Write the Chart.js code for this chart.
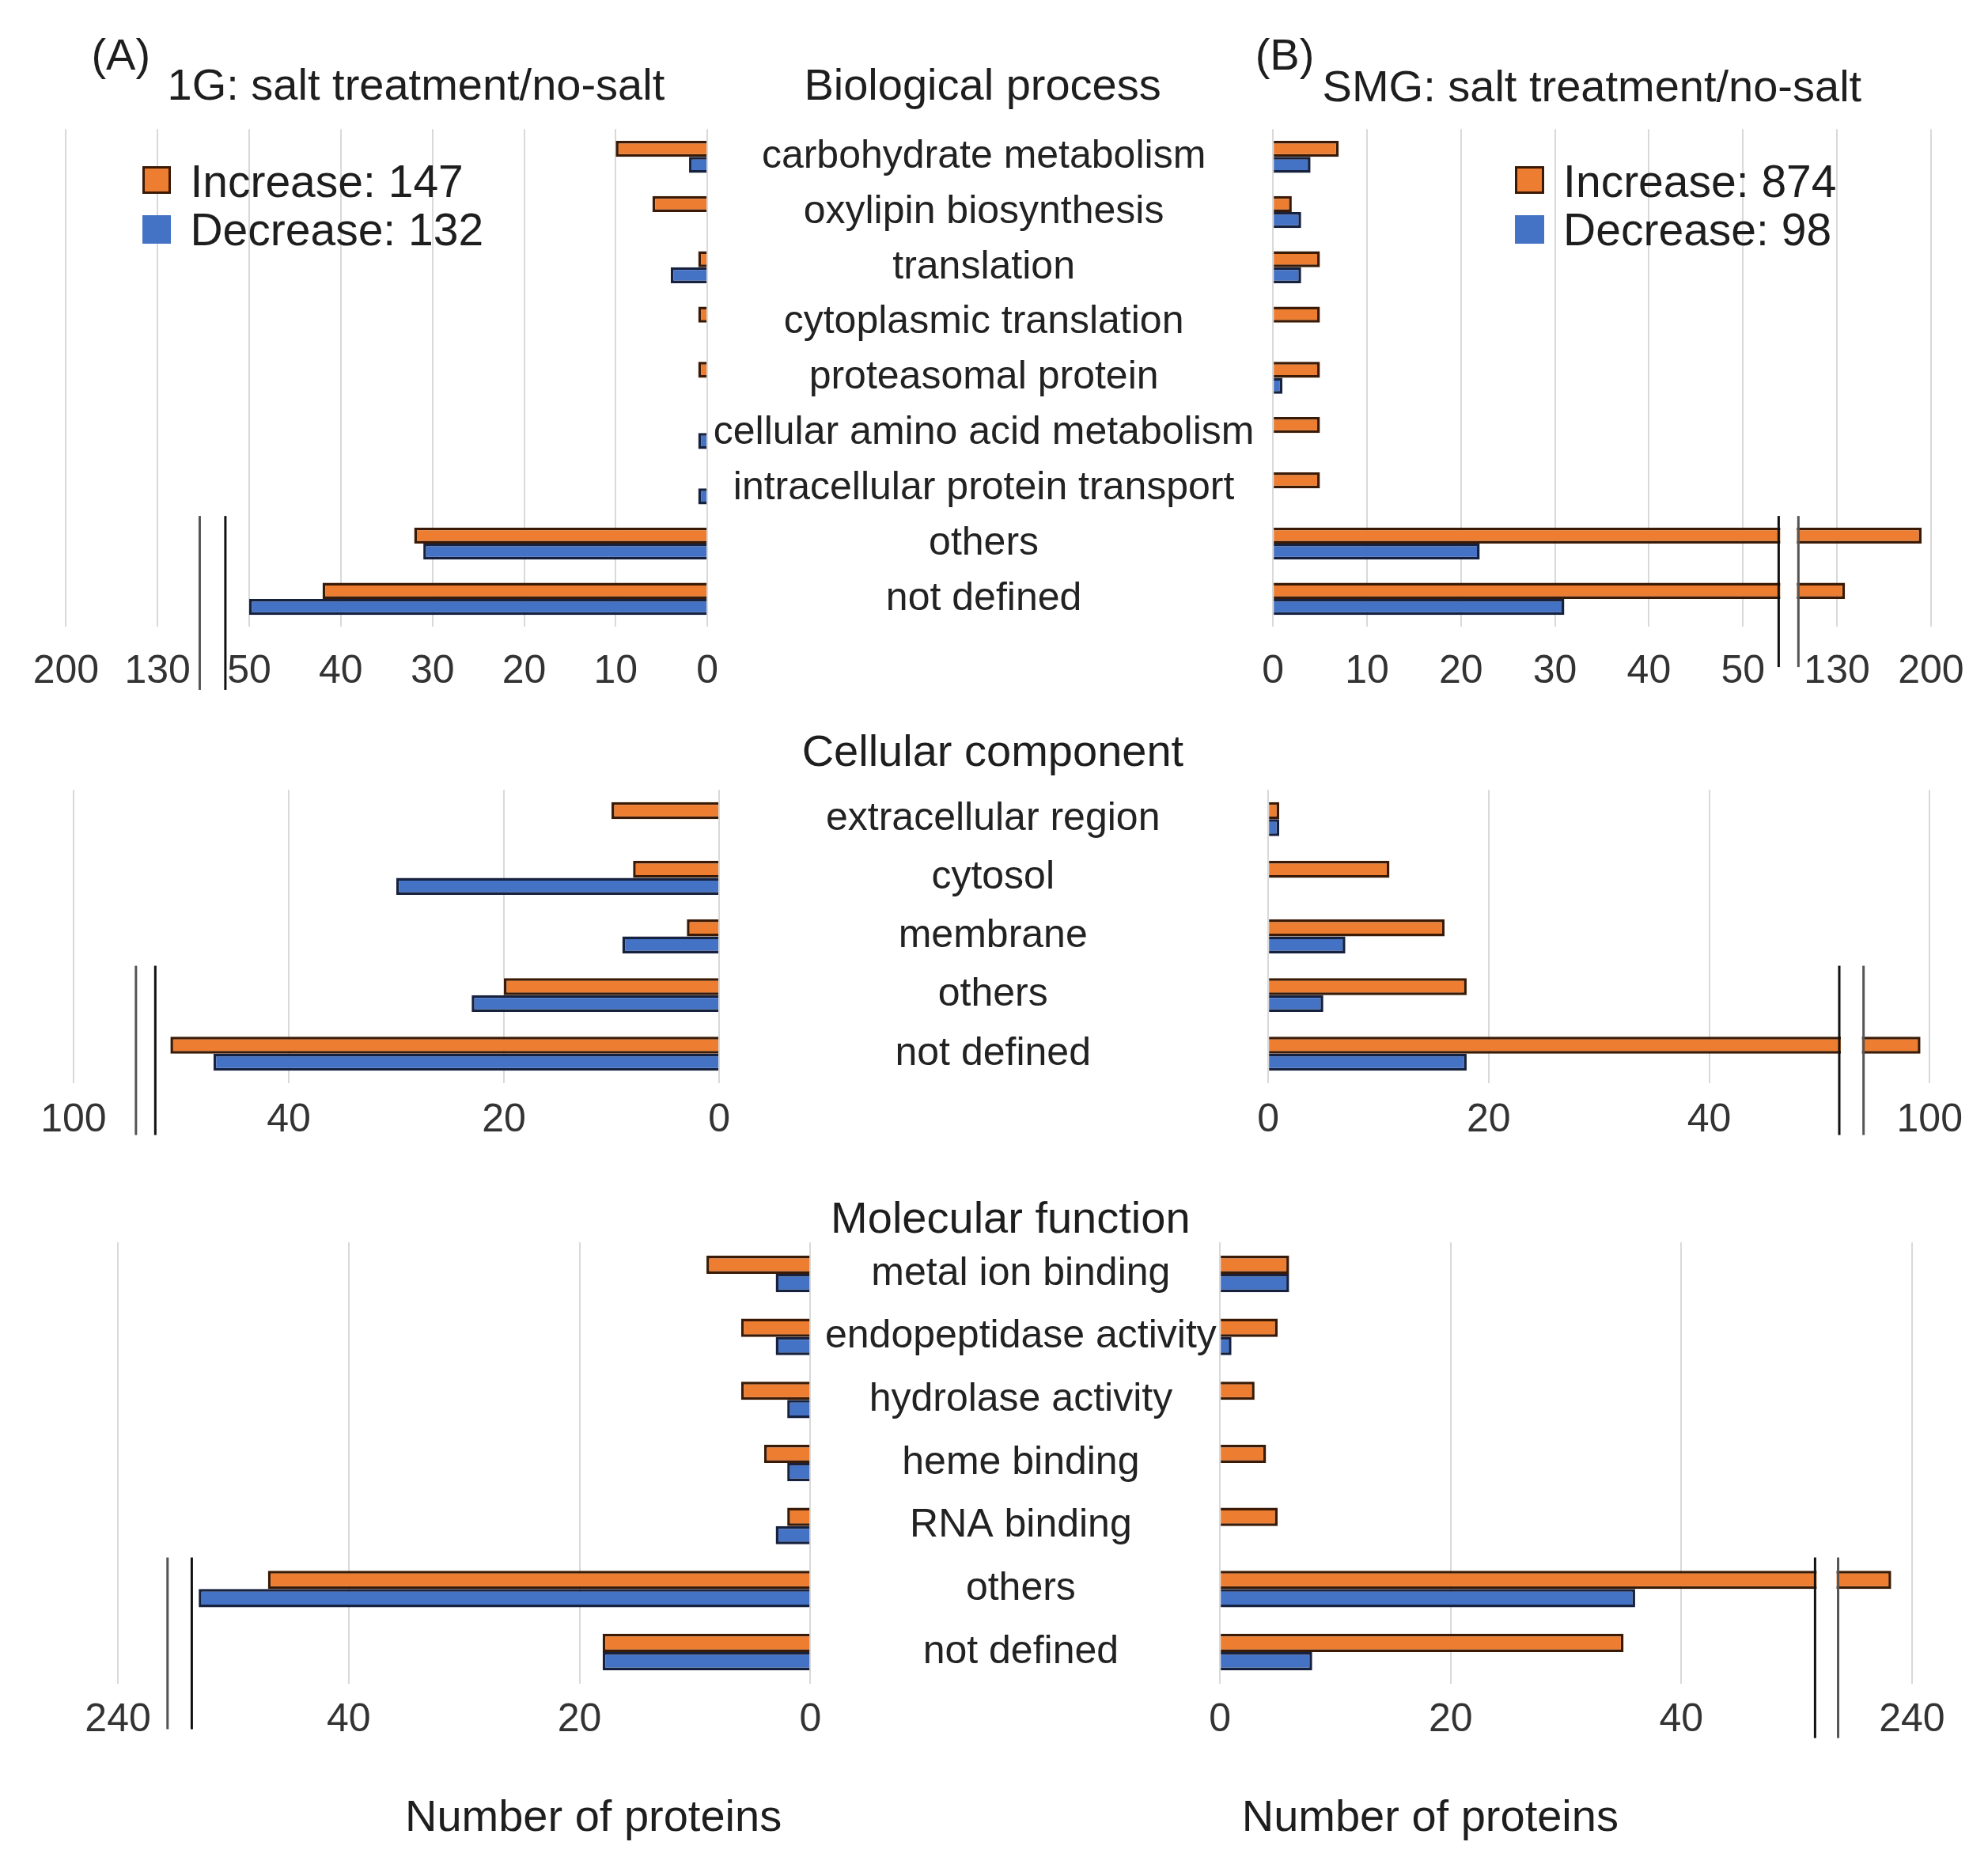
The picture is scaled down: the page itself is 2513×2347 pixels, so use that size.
<!DOCTYPE html>
<html>
<head>
<meta charset="utf-8">
<script src="https://cdn.jsdelivr.net/npm/chart.js@4.4.1/dist/chart.umd.min.js"></script>
<style>
body { margin: 0; background: #fff; }
#page { position: relative; width: 2513px; height: 2347px; overflow: hidden; font-family: "Liberation Sans", Arial, sans-serif; color: #1e1e1e; }
.t { position: absolute; white-space: nowrap; line-height: 1; }
canvas { position: absolute; }
.sq { position: absolute; box-sizing: border-box; }
</style>
</head>
<body>
<div id="page"></div>
<script>
// ---- data ----
const bpLabels = ['carbohydrate metabolism', 'oxylipin biosynthesis', 'translation', 'cytoplasmic translation',
    'proteasomal protein', 'cellular amino acid metabolism', 'intracellular protein transport', 'others', 'not defined'];
const bpIncA = [10, 6, 1, 1, 1, 0, 0, 32, 42];
const bpDecA = [2, 0, 4, 0, 0, 1, 1, 31, 50];
const bpIncB = [7, 2, 5, 5, 5, 5, 5, 193, 136];
const bpDecB = [4, 3, 3, 0, 1, 0, 0, 22, 31];
const bpTicks = [0, 10, 20, 30, 40, 50, 130, 200];

const ccLabels = ['extracellular region', 'cytosol', 'membrane', 'others', 'not defined'];
const ccIncA = [10, 8, 3, 20, 51];
const ccDecA = [0, 30, 9, 23, 47];
const ccIncB = [1, 11, 16, 18, 95];
const ccDecB = [1, 0, 7, 5, 18];
const ccTicks = [0, 20, 40, 100];

const mfLabels = ['metal ion binding', 'endopeptidase activity', 'hydrolase activity', 'heme binding',
    'RNA binding', 'others', 'not defined'];
const mfIncA = [9, 6, 6, 4, 2, 47, 18];
const mfDecA = [3, 3, 2, 2, 3, 53, 18];
const mfIncB = [6, 5, 3, 4, 5, 192, 35];
const mfDecB = [6, 1, 0, 0, 0, 36, 8];
const mfTicks = [0, 20, 40, 240];

const legendA = ['Increase: 147', 'Decrease: 132'];
const legendB = ['Increase: 874', 'Decrease: 98'];

// broken axes: value -> axis position (piecewise linear)
const bpKnots = [[0, 0], [50, 50], [130, 60], [200, 70]];
const ccKnots = [[0, 0], [52, 52], [100, 60]];
const mfKnots = [[0, 0], [53, 53], [240, 60]];

const W = 2513;
const S = W / 1568;   // layout numbers below are in reference-thumbnail units
const ORANGE = '#ED7D31', BLUE = '#4472C4';
const FONT = '"Liberation Sans", Arial, sans-serif';
const page = document.getElementById('page');

function toDisp(v, knots) {
    for (let i = 1; i < knots.length; i++) {
        const [v0, d0] = knots[i - 1], [v1, d1] = knots[i];
        if (v <= v1 || i === knots.length - 1) return d0 + (v - v0) * (d1 - d0) / (v1 - v0);
    }
}

const rows = [
    { labels: bpLabels, a: [bpIncA, bpDecA], b: [bpIncB, bpDecB], ticks: bpTicks, knots: bpKnots, max: 70,
      top: 102, bottom: 494, aL: 52, aR: 558, bL: 1004, bR: 1523, labelX: 776, tickPad: 17, big: 7,
      breakA: [52.6, 55.4], breakB: [53.8, 55.9], downA: 50, downB: 32 },
    { labels: ccLabels, a: [ccIncA, ccDecA], b: [ccIncB, ccDecB], ticks: ccTicks, knots: ccKnots, max: 60,
      top: 623, bottom: 854, aL: 58, aR: 567, bL: 1000, bR: 1522, labelX: 783, tickPad: 11, big: 3,
      breakA: [52.4, 54.2], breakB: [51.8, 54.0], downA: 41, downB: 41 },
    { labels: mfLabels, a: [mfIncA, mfDecA], b: [mfIncB, mfDecB], ticks: mfTicks, knots: mfKnots, max: 60,
      top: 980, bottom: 1328, aL: 93, aR: 639, bL: 962, bR: 1508, labelX: 805, tickPad: 10, big: 5,
      breakA: [53.6, 55.7], breakB: [51.6, 53.6], downA: 36, downB: 43 }
];

const breakPlugin = {
    id: 'axisBreak',
    afterDatasetsDraw(chart, args, o) {
        if (!o.at) return;
        const ctx = chart.ctx, area = chart.chartArea;
        const xs = chart.scales.x, ys = chart.scales.y;
        const x1 = xs.getPixelForValue(o.at[0]), x2 = xs.getPixelForValue(o.at[1]);
        const band = ys.getPixelForValue(1) - ys.getPixelForValue(0);
        const yTop = ys.getPixelForValue(o.from) - band / 2;
        const yBot = area.bottom + o.down;
        ctx.save();
        ctx.fillStyle = '#fff';
        ctx.fillRect(Math.min(x1, x2) + 2, yTop, Math.abs(x2 - x1) - 4, area.bottom - yTop);
        ctx.lineWidth = 3;
        [[x1, '#111'], [x2, '#555']].forEach(([x, c]) => {
            ctx.strokeStyle = c;
            ctx.beginPath();
            ctx.moveTo(x, yTop);
            ctx.lineTo(x, yBot);
            ctx.stroke();
        });
        ctx.restore();
    }
};

const measure = document.createElement('canvas').getContext('2d');
measure.font = '50px ' + FONT;

function makePanel(row, side) {
    const isA = side === 'A';
    const padTop = 12, axisH = 75;
    const left = isA ? 0 : (row.bL - 45) * S;
    const right = isA ? row.bL * S : W;
    const top = (row.top - padTop) * S;
    const h = (row.bottom - row.top + padTop + axisH) * S;
    const cv = document.createElement('canvas');
    cv.width = Math.round(right - left);
    cv.height = Math.round(h);
    cv.style.left = left + 'px';
    cv.style.top = top + 'px';
    page.appendChild(cv);

    const vals = isA ? row.a : row.b;
    const widest = Math.max(...row.labels.map(l => measure.measureText(l).width));
    const yPad = (row.labelX - row.aR) * S - widest / 2;

    new Chart(cv, {
        type: 'bar',
        data: {
            labels: row.labels,
            datasets: [
                { label: 'Increase', data: vals[0].map(v => toDisp(v, row.knots)), backgroundColor: ORANGE,
                  borderColor: '#3a1a04', borderWidth: 3.5 },
                { label: 'Decrease', data: vals[1].map(v => toDisp(v, row.knots)), backgroundColor: BLUE,
                  borderColor: '#15213f', borderWidth: 3.5 }
            ]
        },
        options: {
            indexAxis: 'y',
            responsive: false,
            animation: false,
            devicePixelRatio: 1,
            categoryPercentage: 0.58,
            barPercentage: 1.0,
            layout: { padding: isA
                ? { left: row.aL * S, right: 0, top: padTop * S, bottom: 0 }
                : { left: 45 * S, right: W - row.bR * S, top: padTop * S, bottom: 0 } },
            plugins: {
                legend: { display: false },
                tooltip: { enabled: false },
                axisBreak: { at: isA ? row.breakA : row.breakB, from: row.big, down: (isA ? row.downA : row.downB) * S }
            },
            scales: {
                x: {
                    type: 'linear',
                    reverse: isA,
                    min: 0,
                    max: row.max,
                    afterBuildTicks: s => { s.ticks = row.ticks.map(v => ({ value: toDisp(v, row.knots) })); },
                    afterFit: s => { s.height = axisH * S; },
                    ticks: {
                        autoSkip: false,
                        maxRotation: 0,
                        padding: row.tickPad * S,
                        color: '#333',
                        font: { family: FONT, size: 50 },
                        callback: (v, i) => String(row.ticks[i])
                    },
                    grid: { color: '#d9d9d9', lineWidth: 2, drawTicks: false },
                    border: { display: false }
                },
                y: {
                    display: isA,
                    position: 'right',
                    afterFit: s => {
                        if (isA) s.width = (row.bL - row.aR) * S;
                        s.paddingTop = 0;
                        s.paddingBottom = 0;
                    },
                    ticks: {
                        crossAlign: 'center',
                        padding: yPad,
                        color: '#222',
                        font: { family: FONT, size: 50 },
                        autoSkip: false
                    },
                    grid: { display: false, drawTicks: false },
                    border: { display: false }
                }
            }
        },
        plugins: [breakPlugin]
    });
}

rows.forEach(r => { makePanel(r, 'A'); makePanel(r, 'B'); });

// ---- texts ----
function text(str, x, y, size, anchor) {
    const d = document.createElement('div');
    d.className = 't';
    d.textContent = str;
    d.style.fontSize = size + 'px';
    d.style.left = (x * S) + 'px';
    d.style.top = (y * S) + 'px';
    d.style.transform = anchor === 'center' ? 'translate(-50%,-50%)' : 'translate(0,-50%)';
    page.appendChild(d);
}
function square(x, y, color, bordered) {
    const d = document.createElement('div');
    d.className = 'sq';
    d.style.left = (x * S) + 'px';
    d.style.top = (y * S) + 'px';
    d.style.width = (23 * S) + 'px';
    d.style.height = (22 * S) + 'px';
    d.style.background = color;
    if (bordered) d.style.border = '3px solid #3a1a04';
    page.appendChild(d);
}

text('(A)', 72, 43, 56, 'left');
text('1G: salt treatment/no-salt', 132, 67, 56, 'left');
text('Biological process', 775, 67, 56, 'center');
text('(B)', 990, 43, 56, 'left');
text('SMG: salt treatment/no-salt', 1043, 68, 56, 'left');
text('Cellular component', 783, 592, 56, 'center');
text('Molecular function', 797, 960, 56, 'center');
text('Number of proteins', 468, 1432, 56, 'center');
text('Number of proteins', 1128, 1432, 56, 'center');

square(112, 131, ORANGE, true);
square(112, 170, BLUE, false);
text(legendA[0], 150, 143, 57, 'left');
text(legendA[1], 150, 181, 57, 'left');
square(1195, 131, ORANGE, true);
square(1195, 170, BLUE, false);
text(legendB[0], 1233, 143, 57, 'left');
text(legendB[1], 1233, 181, 57, 'left');
</script>
</body>
</html>
